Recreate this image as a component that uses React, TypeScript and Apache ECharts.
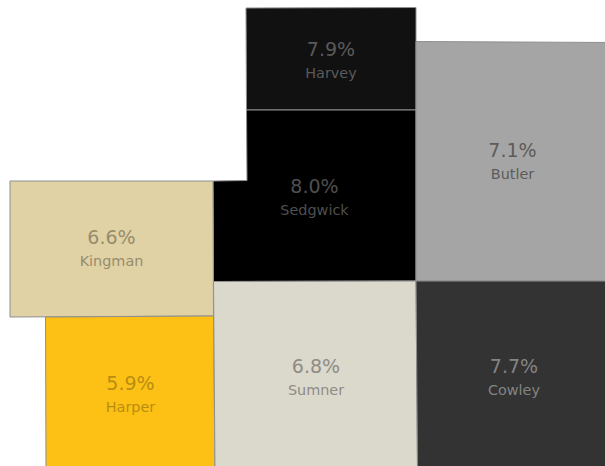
import React, { useEffect, useRef } from "react";
import * as echarts from "echarts";

const counties = ["Harvey", "Sedgwick", "Butler", "Kingman", "Harper", "Sumner", "Cowley"];
const rates = [7.9, 8.0, 7.1, 6.6, 5.9, 6.8, 7.7];
const fills = ["#111111", "#000000", "#a5a5a5", "#e0d2a4", "#fdc015", "#dbd8cc", "#333333"];
const textColors = ["#5a5a5a", "#4f4f4f", "#5c5c5c", "#968c6e", "#b88e12", "#8e8c85", "#848484"];

// County outlines (map geometry, x east, y north); the south and east edges run past the page
const outlines: number[][][] = [
  [[246, -8], [416, -7.5], [416, -110], [246.5, -110]],
  [[246.5, -110], [416, -110], [416, -281], [213.5, -281.5], [213, -181], [247, -180.5]],
  [[416, -41.5], [610, -42.5], [610, -281], [416, -281]],
  [[10, -181], [213, -181], [213.5, -316], [10, -317]],
  [[45.5, -317], [213.5, -316], [215, -471], [46, -471]],
  [[213.5, -281.5], [416, -281], [417.5, -471], [215, -471]],
  [[416, -281], [610, -281], [610, -471], [417.5, -471]],
];
// Label anchors of the counties
const anchors: number[][] = [
  [331, -60],
  [314.5, -197],
  [512.5, -161],
  [111.5, -248],
  [130.5, -394],
  [316, -377],
  [514, -377],
];

export default function App() {
  const ref = useRef<HTMLDivElement>(null);
  useEffect(() => {
    document.body.style.margin = "0";
    const geo = {
      type: "FeatureCollection",
      features: counties.map((name, i) => ({
        type: "Feature",
        properties: { name, cp: anchors[i] },
        geometry: { type: "Polygon", coordinates: [[...outlines[i], outlines[i][0]]] },
      })),
    };
    echarts.registerMap("kansas", geo as any);
    const chart = echarts.init(ref.current!, null, { renderer: "svg" });
    chart.setOption({
      animation: false,
      backgroundColor: "#ffffff",
      series: [
        {
          type: "map",
          map: "kansas",
          silent: true,
          aspectScale: 1,
          left: 10,
          top: 7.5,
          right: -5,
          bottom: -5,
          itemStyle: { borderColor: "#8f8f8f", borderWidth: 1 },
          label: {
            show: true,
            fontFamily: "DejaVu Sans",
            formatter: (p: any) => `{v|${p.value.toFixed(1)}%}\n{n|${p.name}}`,
            rich: {
              v: { fontSize: 19, fontFamily: "DejaVu Sans", lineHeight: 25 },
              n: { fontSize: 14.4, fontFamily: "DejaVu Sans", lineHeight: 23 },
            },
          },
          data: counties.map((name, i) => ({
            name,
            value: rates[i],
            itemStyle: { areaColor: fills[i] },
            label: { color: textColors[i] },
          })),
        },
      ],
    });
    return () => chart.dispose();
  }, []);
  return <div ref={ref} style={{ width: 605, height: 466, overflow: "hidden" }} />;
}
